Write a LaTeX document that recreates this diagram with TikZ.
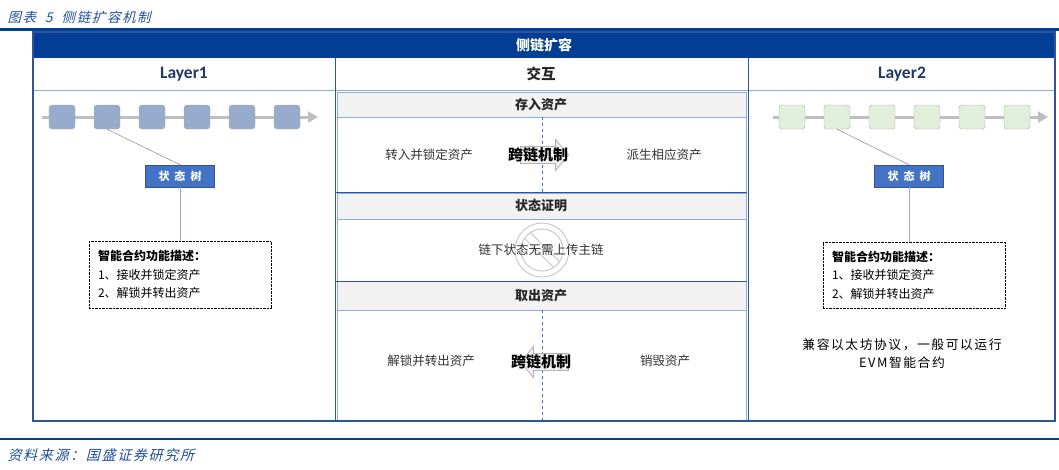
\documentclass[tikz,border=0pt]{standalone}
\usepackage{fontspec}
\setmainfont{Noto Sans CJK SC}
\newfontfamily\latinbold{Carlito}
\newfontfamily\slantcjk[FakeSlant=0.25,LetterSpace=12]{Noto Sans CJK SC}
\newfontfamily\spacedcjk[LetterSpace=12]{Noto Sans CJK SC}
\usetikzlibrary{positioning,shapes.arrows,arrows.meta}

\definecolor{hdrblue}{HTML}{023E94}
\definecolor{frameblue}{HTML}{2F5597}
\definecolor{navy}{HTML}{1F3864}
\definecolor{bandgray}{HTML}{F2F2F2}
\definecolor{bandline}{HTML}{8FAADC}
\definecolor{blockblue}{HTML}{97ABCC}
\definecolor{blockgreen}{HTML}{E2EFDA}
\definecolor{treeblue}{HTML}{4472C4}
\definecolor{chaingray}{HTML}{BFBFBF}
\definecolor{titleblue}{HTML}{1F4E9E}

\begin{document}
\begin{tikzpicture}[x=1pt,y=-1pt,
  lblock/.style={draw=gray!65,fill=blockblue,rounded corners=3pt,minimum width=26pt,minimum height=24pt,inner sep=0pt},
  rblock/.style={lblock,fill=blockgreen},
  chainline/.style={draw=chaingray,line width=3pt,-{Triangle[length=10pt,width=11pt]}},
  treebox/.style={draw=frameblue,fill=treeblue,text=white,minimum width=69pt,minimum height=22pt,inner sep=0pt,font=\fontsize{11}{12}\selectfont\bfseries},
  descbox/.style={draw,densely dotted,text width=164pt,inner sep=9pt,minimum height=65pt,align=left,font=\fontsize{12}{18.5}\selectfont},
  colhead/.style={font=\latinbold\fontsize{17.5}{19}\selectfont\bfseries,text=navy},
  bandhead/.style={font=\fontsize{13}{15}\selectfont\bfseries,text=black!85},
  bodytext/.style={font=\fontsize{12.5}{15}\selectfont,text=black!80},
  crosstext/.style={font=\fontsize{15}{17}\selectfont\bfseries},
  ghostarrow/.style={single arrow,draw=gray!60,line width=0.8pt,fill=gray!10,inner xsep=0pt,inner ysep=8pt,minimum height=48pt,single arrow head extend=7pt,single arrow tip angle=100},
  bandbox/.style={draw=bandline,fill=bandgray},
  cellbox/.style={draw=bandline,fill=white},
  midline/.style={draw=treeblue,dashed},
  linkline/.style={draw=gray!90!black},
  treeline/.style={draw=bandline}
]
\useasboundingbox (0,0) rectangle (1059,469);

% caption and rules
\node[anchor=west,text=titleblue,font=\slantcjk\fontsize{13.5}{15}\selectfont] (title) at (4,17) {图表\hspace{9pt}5\hspace{9pt}侧链扩容机制};
\draw[hdrblue,line width=2.5pt] (0,29.5) -- (1059,29.5);
\draw[hdrblue,line width=2pt] (0,438.5) -- (1059,438.5);
\node[anchor=west,text=titleblue,font=\slantcjk\fontsize{14}{16}\selectfont] (source) at (4,455) {资料来源：国盛证券研究所};

% outer frame and headers
\fill[hdrblue] (33,32) rectangle (1055,58);
\node[text=white,font=\fontsize{14}{16}\selectfont\bfseries] (sidechain) at (544,45) {侧链扩容};
\draw[bandline,line width=0.8pt] (33,90) -- (1055,90);
\draw[frameblue,line width=1pt] (335,58) -- (335,421);
\draw[frameblue,line width=1pt] (748,58) -- (748,421);
\node[colhead] (layer1) at (184,74) {Layer1};
\node[bandhead,font=\fontsize{14.5}{16}\selectfont\bfseries] (interact) at (541,74) {交互};
\node[colhead] (layer2) at (902,74) {Layer2};

% middle column sections
\draw[bandbox] (337,92) rectangle (746,117);
\draw[cellbox] (337,117) rectangle (746,192);
\draw[bandbox] (337,193) rectangle (746,219);
\draw[cellbox] (337,219) rectangle (746,281);
\draw[bandbox] (337,281) rectangle (746,310);
\draw[cellbox] (337,310) rectangle (746,420);
\draw[frameblue,line width=1pt] (336,192.5) -- (747,192.5);
\draw[frameblue,line width=1pt] (336,281) -- (747,281);

\node[bandhead] (deposit) at (541,104.5) {存入资产};
\node[bandhead] (proof) at (541,206) {状态证明};
\node[bandhead] (withdraw) at (541,295.5) {取出资产};

\coordinate (dtop) at (542,117);
\coordinate (dbot) at (542,192);
\coordinate (wtop) at (542,310);
\coordinate (wbot) at (542,420);
\draw[midline] (dtop) -- (dbot);
\draw[midline] (wtop) -- (wbot);

\node[ghostarrow] (inarrow) at (541,155) {};
\node[ghostarrow,shape border rotate=180] (outarrow) at (548,362) {};

\node[bodytext] (lockin) at (429,155) {转入并锁定资产};
\node[crosstext] (cross1) at (538,155) {跨链机制};
\node[bodytext] (derive) at (664,155) {派生相应资产};

% no-upload sign
\coordinate (nosign) at (542,250);
\draw[gray!45,line width=0.9pt] (nosign) circle (27pt) (nosign) circle (21pt);
\draw[gray!45,line width=0.9pt] ([shift={(-11.74,-17.4)}]nosign) -- ([shift={(17.4,11.74)}]nosign);
\draw[gray!45,line width=0.9pt] ([shift={(-17.4,-11.74)}]nosign) -- ([shift={(11.74,17.4)}]nosign);
\node[bodytext] (offchain) at (541,250) {链下状态无需上传主链};

\node[bodytext] (unlockout) at (431,361) {解锁并转出资产};
\node[crosstext] (cross2) at (541,362) {跨链机制};
\node[bodytext] (burn) at (665,361) {销毁资产};

% Layer1 chain
\coordinate (lstart) at (42,117);
\coordinate (lend) at (318,117);
\draw[chainline] (lstart) -- (lend);
\node[lblock] (l1) at (62,117) {};
\node[lblock,right=18.6pt of l1] (l2) {};
\node[lblock,right=18.6pt of l2] (l3) {};
\node[lblock,right=18.6pt of l3] (l4) {};
\node[lblock,right=18.6pt of l4] (l5) {};
\node[lblock,right=18.6pt of l5] (l6) {};
\node[treebox] (ltree) at (180,176) {状\hspace{5pt}态\hspace{5pt}树};
\node[descbox] (ldesc) at (180,274.5) {\textbf{智能合约功能描述：}\\1、接收并锁定资产\\2、解锁并转出资产};
\draw[linkline] (l2.south) -- (ltree.north);
\draw[treeline] (ltree.south) -- (ldesc.north);

% Layer2 chain
\coordinate (rstart) at (773,117);
\coordinate (rend) at (1048,117);
\draw[chainline] (rstart) -- (rend);
\node[rblock] (r1) at (792,117) {};
\node[rblock,right=18.6pt of r1] (r2) {};
\node[rblock,right=18.6pt of r2] (r3) {};
\node[rblock,right=18.6pt of r3] (r4) {};
\node[rblock,right=18.6pt of r4] (r5) {};
\node[rblock,right=18.6pt of r5] (r6) {};
\node[treebox] (rtree) at (909,176) {状\hspace{5pt}态\hspace{5pt}树};
\node[descbox] (rdesc) at (914,275) {\textbf{智能合约功能描述：}\\1、接收并锁定资产\\2、解锁并转出资产};
\draw[linkline] (r2.south) -- (rtree.north);
\draw[treeline] (rtree.south) -- (rtree.south |- rdesc.north);
\node[align=center,font=\spacedcjk\fontsize{12.8}{18}\selectfont] (compat) at (902,354) {兼容以太坊协议，一般可以运行\\EVM智能合约};

% outer border last
\draw[frameblue,line width=1.2pt] (33,32) rectangle (1055,421);
\end{tikzpicture}
\end{document}
